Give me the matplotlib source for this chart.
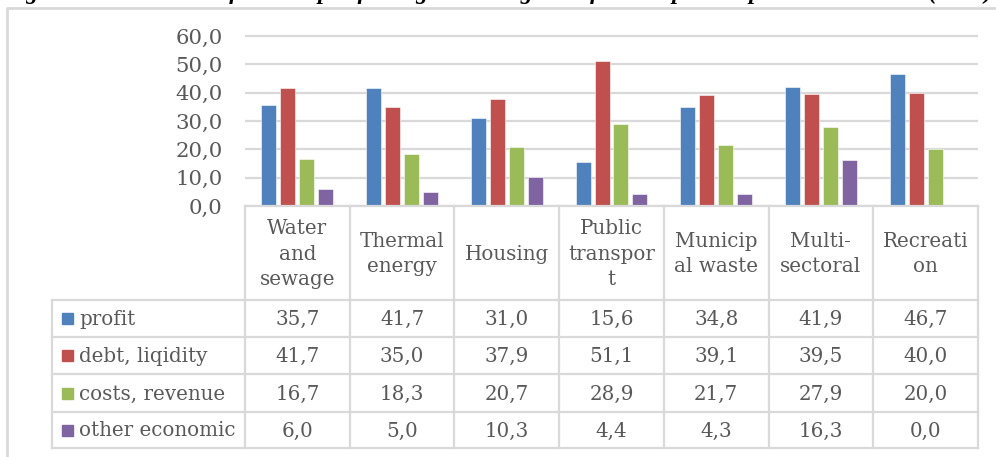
import matplotlib.pyplot as plt
from matplotlib.patches import Rectangle
import numpy as np

sectors = ["Water\nand\nsewage", "Thermal\nenergy", "Housing", "Public\ntranspor\nt",
           "Municip\nal waste", "Multi-\nsectoral", "Recreati\non"]
series = ["profit", "debt, liqidity", "costs, revenue", "other economic"]
profit = [35.7, 41.7, 31.0, 15.6, 34.8, 41.9, 46.7]
debt = [41.7, 35.0, 37.9, 51.1, 39.1, 39.5, 40.0]
costs = [16.7, 18.3, 20.7, 28.9, 21.7, 27.9, 20.0]
other = [6.0, 5.0, 10.3, 4.4, 4.3, 16.3, 0.0]
values = [profit, debt, costs, other]
colors = ["#4F81BD", "#C0504D", "#9BBB59", "#8064A2"]

W, H = 996, 457
grey = "#D9D9D9"
txt = "#595959"
font = "DejaVu Serif"
fs = 14.3

fig = plt.figure(figsize=(W / 100, H / 100), dpi=100)

# frame around the chart
frame = fig.add_axes([0, 0, 1, 1])
frame.set_xlim(0, W)
frame.set_ylim(H, 0)
frame.axis("off")
frame.plot([7, 7, W + 5], [H + 5, 8, 8], color=grey, lw=2, solid_capstyle="butt")

# caption, sits mostly above the top edge
fig.text(0.004, 1 + 1.5 / H,
         "Figure 5. Illustration of sector-specific targets to the goals of municipal companies in Finland (2016)",
         ha="left", va="baseline", fontsize=17, fontweight="bold", fontstyle="italic",
         family="Liberation Serif", color="black")

# bar chart
x0, x1 = 245, 978
y_top, y_zero = 36, 206
ymax = 61
h_px = (y_zero - y_top) * ymax / 60
ax = fig.add_axes([x0 / W, 1 - y_zero / H, (x1 - x0) / W, h_px / H])
n = len(sectors)
x = np.arange(n)
bw, step = 0.143, 0.181
for i, (vals, c) in enumerate(zip(values, colors)):
    ax.bar(x + (i - 1.5) * step, vals, bw, color=c, edgecolor="white", linewidth=0.4, zorder=3)
ax.set_xlim(-0.5, n - 0.5)
ax.set_ylim(0, ymax)
ax.set_yticks(np.arange(0, 61, 10))
ax.set_yticklabels([f"{v:.1f}".replace(".", ",") for v in np.arange(0, 61, 10)],
                   fontsize=15.3, family=font, color=txt)
ax.tick_params(axis="y", length=0, pad=16)
ax.set_xticks([])
ax.yaxis.grid(True, color=grey, lw=1.6, zorder=0)
for s in ax.spines.values():
    s.set_visible(False)

# data table under the bars
unit = (x1 - x0) / n
lead = (x0 - 52) / unit
tb = fig.add_axes([52 / W, 1 - 448 / H, (x1 - 52) / W, (448 - y_zero) / H])
tb.set_xlim(-0.5 - lead, n - 0.5)
tb.set_ylim(448, y_zero)
tb.axis("off")
rows = [y_zero, 300, 337, 374, 412, 448]
for k in range(n + 1):
    tb.plot([k - 0.5, k - 0.5], [y_zero, 448], color=grey, lw=1.6, clip_on=False)
tb.plot([-0.5 - lead] * 2, [300, 448], color=grey, lw=1.6, clip_on=False)
tb.plot([-0.5, n - 0.5], [y_zero, y_zero], color=grey, lw=1.6, clip_on=False)
for r in rows[1:]:
    tb.plot([-0.5 - lead, n - 0.5], [r, r], color=grey, lw=1.6, clip_on=False)

for k, name in enumerate(sectors):
    tb.text(k, (rows[0] + rows[1]) / 2 + 1, name, ha="center", va="center",
            fontsize=fs, family=font, color=txt, linespacing=1.45)

sq = 11 / unit
for j, (name, vals, c) in enumerate(zip(series, values, colors)):
    yc = (rows[j + 1] + rows[j + 2]) / 2
    left = -0.5 - lead
    tb.add_patch(Rectangle((left + 10 / unit, yc - 5.5), sq, 11, color=c, clip_on=False))
    tb.text(left + 27 / unit, yc + 1, name, ha="left", va="center",
            fontsize=fs, family=font, color=txt)
    for k, v in enumerate(vals):
        tb.text(k, yc + 1, f"{v:.1f}".replace(".", ","), ha="center", va="center",
                fontsize=fs, family=font, color=txt)

fig.savefig("out.png", dpi=100)
